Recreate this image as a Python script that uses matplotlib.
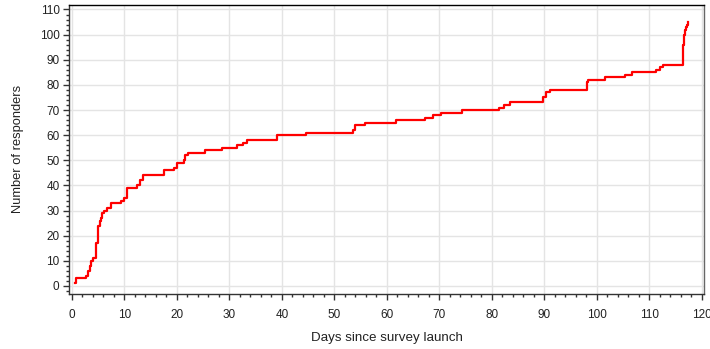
import matplotlib
matplotlib.use("Agg")
import matplotlib.pyplot as plt
from matplotlib.ticker import MultipleLocator

plt.rcParams['font.family'] = ['Liberation Sans', 'DejaVu Sans']

# Step points: day of change and cumulative responders from that day on
days = [0.6, 0.85, 2.6, 3.1, 3.4, 3.7, 4.0, 4.6, 5.0, 5.3, 5.5, 5.8, 6.2, 6.6, 7.4,
        9.4, 10.0, 10.4, 12.4, 13.0, 13.6, 17.6, 19.5, 20.0, 21.3, 21.6, 22.1,
        25.4, 28.5, 31.5, 32.6, 33.4, 39.0, 44.5, 53.5, 54.0, 55.8, 61.8,
        67.3, 68.8, 70.3, 74.4, 81.3, 82.4, 83.4, 89.7, 90.3, 91.0, 98.2, 98.4,
        101.5, 105.4, 106.6, 111.3, 112.0, 112.6, 116.4, 116.5, 116.6, 116.8,
        117.0, 117.2, 117.4]
responders = [1, 3, 4, 6, 8, 10, 11, 17, 24, 26, 27, 29, 30, 31, 33,
              34, 35, 39, 40, 42, 44, 46, 47, 49, 50, 52, 53,
              54, 55, 56, 57, 58, 60, 61, 62, 64, 65, 66,
              67, 68, 69, 70, 71, 72, 73, 75, 77, 78, 81, 82,
              83, 84, 85, 86, 87, 88, 92, 96, 100, 102, 103, 104, 105]

x_label = "Days since survey launch"
y_label = "Number of responders"

fig = plt.figure(figsize=(7.10, 3.49), dpi=100)
ax = fig.add_axes([0.0976, 0.1576, 0.9915 - 0.0976, 0.9865 - 0.1576])

ax.plot(days, responders, drawstyle='steps-post', color='#ff0000', lw=1.6, zorder=3)

ax.set_xlim(-0.5, 120.4)
ax.set_ylim(-3.2, 111.9)
ax.xaxis.set_major_locator(MultipleLocator(10))
ax.xaxis.set_minor_locator(MultipleLocator(2))
ax.yaxis.set_major_locator(MultipleLocator(10))
ax.yaxis.set_minor_locator(MultipleLocator(2))

ax.grid(True, which='major', color='#e4e4e4', lw=1.0, zorder=0)
ax.set_axisbelow(True)

ax.tick_params(axis='both', which='major', length=4, width=1, color='#333333',
               labelsize=8.5, labelcolor='#222222', pad=3)
ax.tick_params(axis='both', which='minor', length=2.5, width=1, color='#333333')
ax.tick_params(axis='x', pad=7)

for s in ax.spines.values():
    s.set_color('#333333')
    s.set_linewidth(1.0)
ax.spines['top'].set_color('#000000')
ax.spines['right'].set_color('#666666')

ax.set_xlabel(x_label, fontsize=9.6, color='#222222', labelpad=8)
ax.set_ylabel(y_label, fontsize=9.3, color='#222222', labelpad=11)

fig.savefig("out.png", dpi=100)
